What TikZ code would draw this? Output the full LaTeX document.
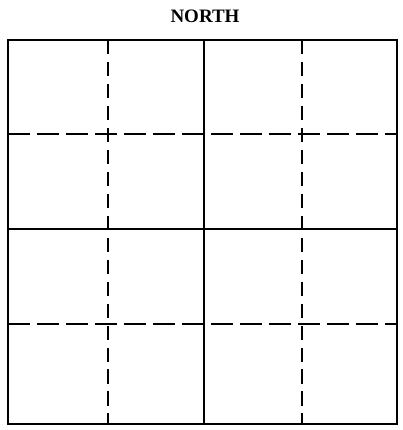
\documentclass[tikz,border=0pt]{standalone}
\usepackage{fontspec}
\setmainfont{Liberation Serif}
\begin{document}
\begin{tikzpicture}
			\tikzstyle{every node}=[font=\fontsize{10.8}{12}\selectfont\bfseries]
			\tikzstyle{wall}=[line width=1.5pt]
			\tikzstyle{split}=[line width=0.8pt]
			\tikzstyle{hdash}=[line width=0.9pt, dash pattern=on 12.5pt off 4pt]
			\tikzstyle{vdash}=[line width=0.9pt, dash pattern=on 8pt off 4.5pt]
			\useasboundingbox (0,0) rectangle (8.04,8.6);
			\node (north) at (4.1,8.28) {NORTH};
			\draw [split] (4.08,7.8) -- (4.08,0.12);
			\draw [split] (0.16,4.02) -- (7.94,4.02);
			\draw [hdash] (0.16,5.92) -- (7.94,5.92);
			\draw [hdash] (0.16,2.12) -- (7.94,2.12);
			\draw [vdash] (2.16,7.8) -- (2.16,0.12);
			\draw [vdash] (6.04,7.8) -- (6.04,0.12);
			\draw [wall] (0.16,0.12) rectangle (7.94,7.8);
		\end{tikzpicture}
\end{document}
